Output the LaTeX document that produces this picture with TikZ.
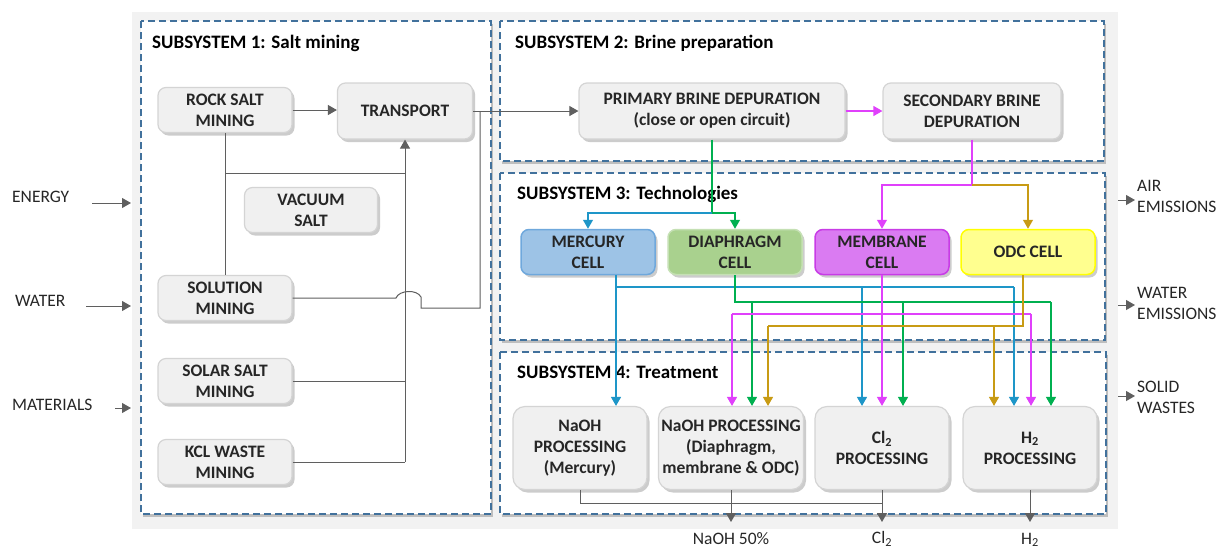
\documentclass[tikz,border=0pt]{standalone}
\usepackage{fontspec}
\setmainfont{Carlito}
\usetikzlibrary{shadows,arrows.meta}
\definecolor{bggray}{HTML}{F2F2F2}
\definecolor{frameblue}{HTML}{41719C}
\definecolor{boxfill}{HTML}{F0F0F0}
\definecolor{boxdraw}{HTML}{D4D4D4}
\definecolor{txt}{HTML}{262626}
\definecolor{arrgray}{HTML}{5F5F5F}
\definecolor{cblue}{HTML}{1E96C8}
\definecolor{cgreen}{HTML}{00B050}
\definecolor{cmag}{HTML}{E040FB}
\definecolor{cgold}{HTML}{C89B14}
\definecolor{merfill}{HTML}{9DC3E6}
\definecolor{merdraw}{HTML}{6FA8DC}
\definecolor{diafill}{HTML}{A9D18E}
\definecolor{diadraw}{HTML}{C5E0B4}
\definecolor{memfill}{HTML}{DA7BF2}
\definecolor{memdraw}{HTML}{C83CE6}
\definecolor{odcfill}{HTML}{FFFF8F}
\definecolor{odcdraw}{HTML}{FFFF00}
\begin{document}
\begin{tikzpicture}[x=1pt,y=-1pt,
  frame/.style={draw=frameblue, line width=1.5pt, dash pattern=on 7pt off 4pt, fill=white,
    drop shadow={shadow xshift=2pt, shadow yshift=-3pt, opacity=0.45}},
  pbox/.style={rounded corners=8pt, draw=boxdraw, line width=1.2pt, fill=boxfill, text=txt,
    font=\bfseries\fontsize{17.5}{21}\selectfont, align=center, inner sep=0pt,
    drop shadow={shadow xshift=2.5pt, shadow yshift=-3pt, opacity=0.4}},
  small/.style={minimum width=134pt, minimum height=45pt},
  big/.style={minimum width=134pt, minimum height=83pt, rounded corners=12pt},
  title/.style={text=black, font=\bfseries\fontsize{19}{23}\selectfont, inner sep=0pt, anchor=base west},
  lbl/.style={text=txt, font=\fontsize{17.5}{21}\selectfont, inner sep=0pt, align=left},
  tipg/.style={-{Triangle[width=10pt,length=9pt]}},
  gline/.style={draw=arrgray, line width=1pt},
  garr/.style={gline, tipg},
  bline/.style={draw=cblue, line width=1.2pt},
  barr/.style={bline, tipg},
  grline/.style={draw=cgreen, line width=1.2pt},
  grarr/.style={grline, tipg},
  mline/.style={draw=cmag, line width=1.2pt},
  marr/.style={mline, tipg},
  oline/.style={draw=cgold, line width=1.2pt},
  oarr/.style={oline, tipg}
]
\useasboundingbox (0,0) rectangle (1221,550);
\fill[bggray] (132,12) rectangle (1118,529);

% subsystem frames
\path[frame] (141,21) rectangle (491,514);
\path[frame] (500,21) rectangle (1104,161);
\path[frame] (500,173) rectangle (1105,340);
\path[frame] (500,352) rectangle (1106,514);

\node[title] (t1) at (152,48) {SUBSYSTEM 1: Salt mining};
\node[title] (t2) at (515,48) {SUBSYSTEM 2: Brine preparation};
\node[title] (t3) at (517,199) {SUBSYSTEM 3: Technologies};
\node[title] (t4) at (517,378) {SUBSYSTEM 4: Treatment};

% subsystem 1 boxes
\node[pbox, small] (rock) at (225,110) {ROCK SALT\\MINING};
\node[pbox, minimum width=135pt, minimum height=56pt] (transport) at (405,111) {TRANSPORT};
\node[pbox, minimum width=133pt, minimum height=45pt] (vacuum) at (311,210) {VACUUM\\SALT};
\node[pbox, small] (solution) at (225,298) {SOLUTION\\MINING};
\node[pbox, small] (solar) at (225,381) {SOLAR SALT\\MINING};
\node[pbox, small] (kcl) at (225,462) {KCL WASTE\\MINING};

% subsystem 2 boxes
\node[pbox, minimum width=266pt, minimum height=56pt] (primary) at (712,111) {PRIMARY BRINE DEPURATION\\(close or open circuit)};
\node[pbox, minimum width=178pt, minimum height=56pt] (secondary) at (972,111) {SECONDARY BRINE\\DEPURATION};

% subsystem 3 cells
\node[pbox, small, fill=merfill, draw=merdraw, line width=1.5pt] (mercury) at (588,252) {MERCURY\\CELL};
\node[pbox, small, fill=diafill, draw=diadraw, line width=1.5pt] (diaphragm) at (735,252) {DIAPHRAGM\\CELL};
\node[pbox, small, fill=memfill, draw=memdraw, line width=1.5pt] (membrane) at (882,252) {MEMBRANE\\CELL};
\node[pbox, small, fill=odcfill, draw=odcdraw, line width=1.5pt] (odc) at (1028,252) {ODC CELL};

% subsystem 4 boxes
\node[pbox, big] (nmerc) at (580,448) {NaOH\\PROCESSING\\(Mercury)};
\node[pbox, big, minimum width=145pt] (ndia) at (731,448) {NaOH PROCESSING\\(Diaphragm,\\membrane \& ODC)};
\node[pbox, big] (cl2p) at (882,448) {Cl\textsubscript{2}\\PROCESSING};
\node[pbox, big] (h2p) at (1030,448) {H\textsubscript{2}\\PROCESSING};

% outside labels
\node[lbl, anchor=west] (energy) at (12,197) {ENERGY};
\node[lbl, anchor=west] (water) at (15,301) {WATER};
\node[lbl, anchor=west] (materials) at (12,405) {MATERIALS};
\node[lbl, anchor=west] (air) at (1137,196) {AIR\\EMISSIONS};
\node[lbl, anchor=west] (wem) at (1137,303) {WATER\\EMISSIONS};
\node[lbl, anchor=west] (solid) at (1137,397) {SOLID\\WASTES};
\node[lbl] (onaoh) at (731,539) {NaOH 50\%};
\node[lbl] (ocl) at (882,539) {Cl\textsubscript{2}};
\node[lbl] (oh) at (1030,540) {H\textsubscript{2}};

% input / output side arrows
\coordinate (eA) at (92,203); \coordinate (eB) at (131,203);
\coordinate (wA) at (86,306); \coordinate (wB) at (131,306);
\coordinate (mA) at (115,408); \coordinate (mB) at (131,408);
\coordinate (aA) at (1118,200); \coordinate (aB) at (1135,200);
\coordinate (weA) at (1118,305); \coordinate (weB) at (1135,305);
\coordinate (sA) at (1118,396); \coordinate (sB) at (1135,396);
\draw[garr] (eA) -- (eB);
\draw[garr] (wA) -- (wB);
\draw[garr] (mA) -- (mB);
\draw[garr] (aA) -- (aB);
\draw[garr] (weA) -- (weB);
\draw[garr] (sA) -- (sB);

% subsystem 1 connectors
\draw[garr] (rock.east) -- (rock.east -| transport.west);
\draw[gline] (rock.south) -- (solution.north);
\coordinate (j1) at (225,173);
\draw[gline] (j1) -- (j1 -| transport.south);
\draw[gline] (solar.east) -- (solar.east -| transport.south);
\draw[gline] (kcl.east) -- (kcl.east -| transport.south);
\draw[garr] (kcl.east -| transport.south) -- (transport.south);
\coordinate (jt) at (480,111);
\draw[gline] (solution.east) -- (396,298) .. controls (399,290) and (417,289) .. (421,297) -- (421,308) -- (480,308) -- (jt);
\draw[garr] (transport.east) -- (transport.east -| primary.west);

% subsystem 2 -> 3
\draw[marr] (primary.east) -- (primary.east -| secondary.west);
\coordinate (b3) at (712,213);
\draw[grarr] (primary.south) -- (b3) -- (b3 -| diaphragm.north) -- (diaphragm.north);
\draw[barr] (b3) -- (b3 -| mercury.north) -- (mercury.north);
\coordinate (b4) at (972,185);
\draw[marr] (secondary.south) -- (b4) -- (b4 -| membrane.north) -- (membrane.north);
\draw[oarr] (b4) -- (b4 -| odc.north) -- (odc.north);

% blue
\coordinate (bb) at (616,287);
\coordinate (xb2) at (862,0);
\coordinate (xb3) at (1014,0);
\draw[barr] (mercury.south -| bb) -- (nmerc.north -| bb);
\draw[bline] (bb) -- (bb -| xb3);
\draw[barr] (bb -| xb3) -- (h2p.north -| xb3);
\draw[barr] (bb -| xb2) -- (cl2p.north -| xb2);

% green
\coordinate (gb) at (735,302);
\coordinate (xg1) at (752,0);
\coordinate (xg2) at (903,0);
\coordinate (xg3) at (1051,0);
\draw[grline] (diaphragm.south) -- (gb) -- (gb -| xg3);
\draw[grarr] (gb -| xg3) -- (h2p.north -| xg3);
\draw[grarr] (gb -| xg1) -- (ndia.north -| xg1);
\draw[grarr] (gb -| xg2) -- (cl2p.north -| xg2);

% magenta
\coordinate (mb1) at (732,314);
\coordinate (mb2) at (1031,314);
\draw[mline] (mb1) -- (mb2);
\draw[marr] (mb1) -- (ndia.north -| mb1);
\draw[marr] (mb2) -- (h2p.north -| mb2);
\draw[marr] (membrane.south) -- (cl2p.north);

% gold
\coordinate (ob) at (1023,326);
\coordinate (ob1) at (768,326);
\coordinate (xo2) at (994,0);
\draw[oline] (odc.south -| ob) -- (ob) -- (ob1);
\draw[oarr] (ob1) -- (ndia.north -| ob1);
\draw[oarr] (ob -| xo2) -- (h2p.north -| xo2);

% outputs
\coordinate (nb) at (580,503);
\coordinate (oy) at (0,522);
\draw[gline] (nmerc.south) -- (nb) -- (nb -| cl2p.south);
\draw[garr] (ndia.south) -- (ndia.south |- oy);
\draw[garr] (cl2p.south) -- (cl2p.south |- oy);
\draw[garr] (h2p.south) -- (h2p.south |- oy);
\end{tikzpicture}
\end{document}
